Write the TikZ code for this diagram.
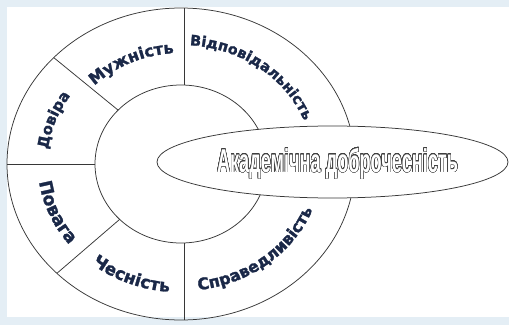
\documentclass[tikz,border=0pt]{standalone}
\usepackage{fontspec}
\usepackage{graphicx}
\usepackage{contour}
\usetikzlibrary{decorations.text,shapes.geometric}
\newfontfamily\ringfont{DejaVu Sans Bold}[FakeBold=1.6]
\newfontfamily\mainlabelfont{Liberation Sans Bold}
\definecolor{ringtxt}{RGB}{26,40,72}
\definecolor{bgblue}{RGB}{228,238,245}
\definecolor{linegray}{RGB}{55,55,55}
\contourlength{0.7pt}
\contournumber{24}
\tikzset{
  ringline/.style={draw=linegray, line width=0.75pt},
  ringlabel/.style={decorate, decoration={text along path, text align=center, text={#1}}},
}
\newcommand{\rf}[1]{\ringfont\fontsize{#1}{#1}\selectfont\color{ringtxt}}
\begin{document}
\begin{tikzpicture}[x=1pt,y=1pt]
\useasboundingbox (0,0) rectangle (509,325);
\fill[bgblue] (0,0) rectangle (509,325);
\fill[white] (7,8) rectangle (509,318);
\coordinate (c) at (181,161);
% ring
\draw[ringline] (c) ellipse [x radius=174, y radius=156];
\draw[ringline, fill=white] (c) ellipse [x radius=86, y radius=79];
\coordinate (vti) at (184,240);
\coordinate (vto) at (184,317);
\coordinate (vbi) at (184,82);
\coordinate (vbo) at (184,5);
\coordinate (hi) at (95,161);
\coordinate (ho) at (7,161);
\coordinate (d1i) at ([shift={(137:86 and 79)}]c);
\coordinate (d1o) at ([shift={(137:174 and 156)}]c);
\coordinate (d2i) at ([shift={(224.5:86 and 79)}]c);
\coordinate (d2o) at ([shift={(224.5:174 and 156)}]c);
\draw[ringline] (vti) -- (vto);
\draw[ringline] (vbi) -- (vbo);
\draw[ringline] (hi) -- (ho);
\draw[ringline] (d1i) -- (d1o);
\draw[ringline] (d2i) -- (d2o);
% ring labels
\path[ringlabel={|\rf{15}|Довіра}] ([shift={(200:134 and 121)}]c) arc[start angle=200, end angle=120, x radius=134, y radius=121];
\path[ringlabel={|\rf{16}|Мужність}] ([shift={(160:122 and 111)}]c) arc[start angle=160, end angle=70, x radius=122, y radius=111];
\path[ringlabel={|\rf{14.5}|Відповідальність}] ([shift={(100:132 and 119)}]c) arc[start angle=100, end angle=6, x radius=132, y radius=119];
\path[ringlabel={|\rf{17.5}|Повага}] ([shift={(160:143.2 and 129)}]c) arc[start angle=160, end angle=245, x radius=143.2, y radius=129];
\path[ringlabel={|\rf{17}|Чесність}] ([shift={(205:142.3 and 128.3)}]c) arc[start angle=205, end angle=290, x radius=142.3, y radius=128.3];
\path[ringlabel={|\rf{16}|Справедливість}] ([shift={(258:141 and 127)}]c) arc[start angle=258, end angle=360, x radius=141, y radius=127];
% central ellipse
\node[ellipse, draw=linegray, line width=0.75pt, fill=white, minimum width=351pt, minimum height=72pt, inner sep=0pt] (main) at (332.5,163) {};
\node[anchor=base, inner sep=0pt] (mainlabel) at (337.5,153) {\scalebox{0.55}[1]{\mainlabelfont\fontsize{33}{33}\selectfont\contour{black!75}{\textcolor{white}{Академічна доброчесність}}}};
\end{tikzpicture}
\end{document}
